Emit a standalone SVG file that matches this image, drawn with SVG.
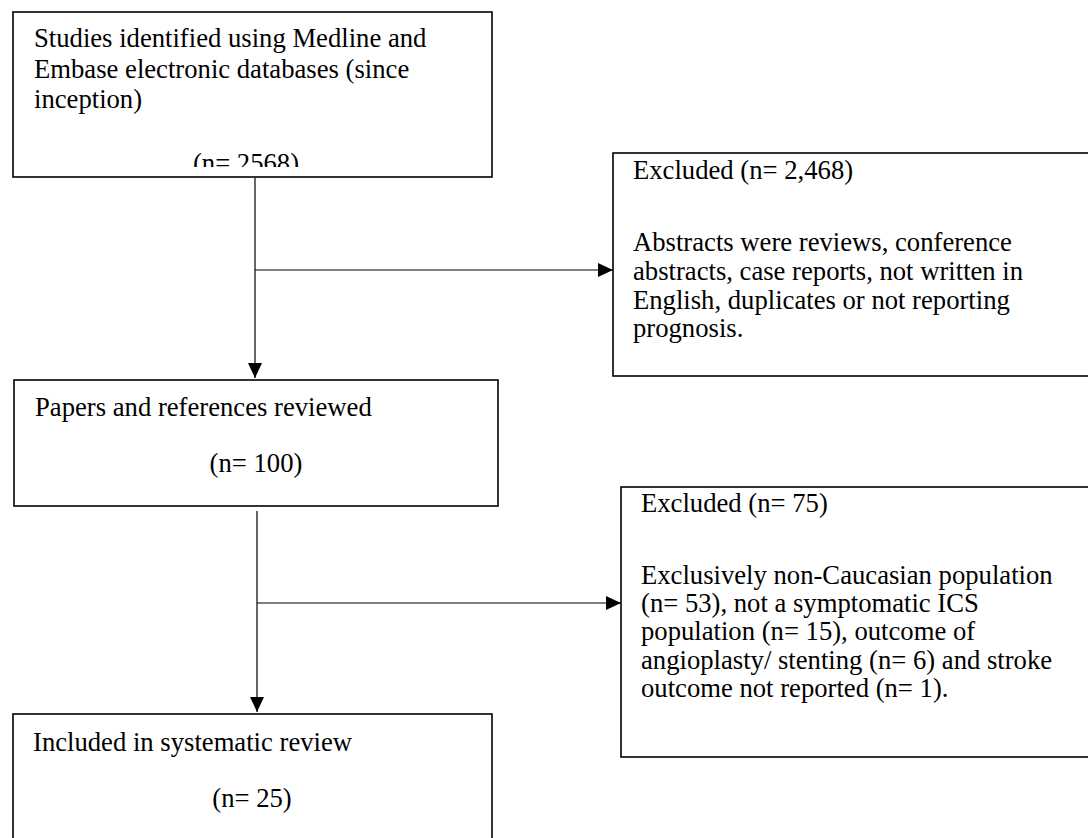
<svg xmlns="http://www.w3.org/2000/svg" width="1088" height="838" viewBox="0 0 1088 838">
<defs>
<style>
.box{fill:#fff;stroke:#000;stroke-width:1.6}
.t{font-family:"Liberation Serif","Times New Roman",serif;font-size:26.67px;fill:#000}
.c{text-anchor:middle}
.ln{stroke:#000;stroke-width:1.2;fill:none}
</style>
<marker id="ah" markerUnits="userSpaceOnUse" markerWidth="16" markerHeight="16" viewBox="0 0 16 16" refX="15" refY="8" orient="auto">
<path d="M0,1 L15,8 L0,15 Z" fill="#000"/>
</marker>
<clipPath id="clip1"><rect x="0" y="0" width="600" height="167"/></clipPath>
</defs>
<rect width="1088" height="838" fill="#fff"/>
<g id="connectors">
<path class="ln" d="M255,178 V378" marker-end="url(#ah)"/>
<path class="ln" d="M255,270 H613" marker-end="url(#ah)"/>
<path class="ln" d="M257,511 V712" marker-end="url(#ah)"/>
<path class="ln" d="M257,603 H621" marker-end="url(#ah)"/>
</g>
<g id="n1">
<rect class="box" x="13" y="12" width="479" height="165"/>
<text class="t" x="34" y="47">Studies identified using Medline and</text>
<text class="t" x="34" y="78">Embase electronic databases (since</text>
<text class="t" x="34" y="108">inception)</text>
<text class="t c" x="246" y="172" clip-path="url(#clip1)">(n= 2568)</text>
</g>
<g id="n2">
<rect class="box" x="613" y="153" width="490" height="223"/>
<text class="t" x="633" y="179">Excluded (n= 2,468)</text>
<text class="t" x="633" y="251">Abstracts were reviews, conference</text>
<text class="t" x="633" y="280">abstracts, case reports, not written in</text>
<text class="t" x="633" y="309">English, duplicates or not reporting</text>
<text class="t" x="633" y="337">prognosis.</text>
</g>
<g id="n3">
<rect class="box" x="14" y="380" width="484" height="126"/>
<text class="t" x="35" y="416">Papers and references reviewed</text>
<text class="t c" x="256" y="472">(n= 100)</text>
</g>
<g id="n4">
<rect class="box" x="621" y="487" width="490" height="270"/>
<text class="t" x="641" y="512">Excluded (n= 75)</text>
<text class="t" x="641" y="584">Exclusively non-Caucasian population</text>
<text class="t" x="641" y="612">(n= 53), not a symptomatic ICS</text>
<text class="t" x="641" y="640">population (n= 15), outcome of</text>
<text class="t" x="641" y="669">angioplasty/ stenting (n= 6) and stroke</text>
<text class="t" x="641" y="697">outcome not reported (n= 1).</text>
</g>
<g id="n5">
<rect class="box" x="13" y="714" width="479" height="140"/>
<text class="t" x="33" y="751">Included in systematic review</text>
<text class="t c" x="252" y="807">(n= 25)</text>
</g>
</svg>
